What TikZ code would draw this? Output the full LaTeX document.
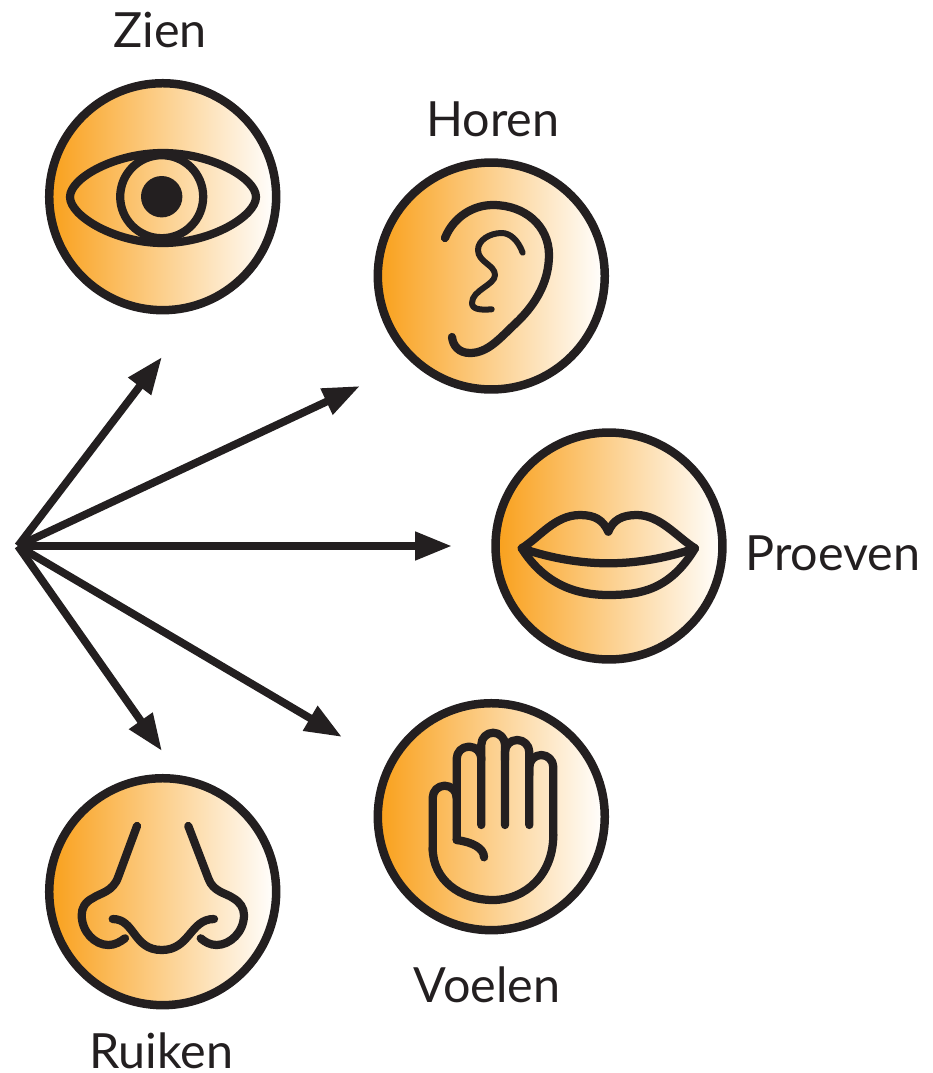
\documentclass[tikz,border=0pt]{standalone}
\usepackage{fontspec}
\setmainfont{Lato}
\usetikzlibrary{arrows.meta}
\definecolor{inkblack}{HTML}{231F20}
\definecolor{senseorange}{HTML}{F9A01B}
\tikzset{
  sense/.style={circle, draw=inkblack, line width=0.17cm, minimum size=4.54cm, inner sep=0pt, left color=senseorange, right color=white},
  icon/.style={draw=inkblack, line width=0.165cm, line cap=round, line join=round},
  lbl/.style={anchor=base, text=inkblack, font=\fontsize{27.6}{32}\selectfont, inner sep=0pt},
  ray/.style={draw=inkblack, line width=0.155cm, -{Triangle[length=0.74cm, width=0.54cm]}}
}
\begin{document}
\begin{tikzpicture}[x=0.02cm, y=-0.02cm]
  \useasboundingbox (0,0) rectangle (933,1073);

  % Circles
  \node[sense] (zien) at (162.7,196.7) {};
  \node[sense] (horen) at (491.3,276) {};
  \node[sense] (proeven) at (609,546) {};
  \node[sense] (voelen) at (491.3,816.7) {};
  \node[sense] (ruiken) at (162.7,891.7) {};

  % Labels
  \node[lbl] (zienlabel) at (160,47) {Zien};
  \node[lbl] (horenlabel) at (493,136) {Horen};
  \node[lbl] (proevenlabel) at (833,570) {Proeven};
  \node[lbl] (voelenlabel) at (487,1002) {Voelen};
  \node[lbl] (ruikenlabel) at (161,1068) {Ruiken};

  % Arrows
  \coordinate (start) at (18,546);
  \coordinate (zientip) at (162,357);
  \coordinate (horentip) at (360,386);
  \coordinate (proeventip) at (452,546);
  \coordinate (voelentip) at (342,737);
  \coordinate (ruikentip) at (162,751);
  \draw[ray] (start) -- (zientip);
  \draw[ray] (start) -- (horentip);
  \draw[ray] (start) -- (proeventip);
  \draw[ray] (start) -- (voelentip);
  \draw[ray] (start) -- (ruikentip);

  % Eye
  \draw[icon] (70,197) .. controls (70,178) and (115,153) .. (163,153) .. controls (211,153) and (256,178) .. (256,197) .. controls (256,216) and (211,243) .. (163,243) .. controls (115,243) and (70,216) .. (70,197) -- cycle;
  \draw[icon] (161.7,196.7) circle (41.5);
  \fill[inkblack] (161.7,196.7) circle (20.7);

  % Ear
  \draw[icon] (445,238) .. controls (453,218) and (472,205) .. (493,205) .. controls (525,205) and (549,226) .. (549,255) .. controls (549,285) and (532,308) .. (516,323) .. controls (500,338) and (488,353) .. (470,353) .. controls (459,353) and (453,346) .. (452,337);
  \draw[icon, line width=0.12cm] (522.7,252.7) .. controls (518,240) and (510,233) .. (501.7,233) .. controls (490,233) and (478,240) .. (478,250) .. controls (478,262) and (495,265) .. (495,275) .. controls (495,285) and (472,290) .. (472,303) .. controls (472,310) and (482,310) .. (491.7,309.3);

  % Lips
  \draw[icon] (521.7,548.3) .. controls (540,537) and (555,515) .. (580,515) .. controls (595,515) and (603,520) .. (608.3,531.7) .. controls (613,520) and (622,515) .. (636.7,515) .. controls (660,515) and (677,537) .. (695,548.3) .. controls (670,590) and (640,595) .. (608.3,595) .. controls (577,595) and (545,585) .. (521.7,548.3) -- cycle;
  \draw[icon] (521.7,548.3) .. controls (550,558) and (580,563.3) .. (608.3,563.3) .. controls (637,563.3) and (667,558) .. (695,548.3);

  % Hand
  \draw[icon, rounded corners=0.24cm] (432.7,850) -- (432.7,785.7) -- (456.7,785.7) -- (456.7,840);
  \draw[icon, rounded corners=0.24cm] (456.7,798) -- (456.7,746.7) -- (481.3,746.7) -- (481.3,825);
  \draw[icon, rounded corners=0.24cm] (481.3,760) -- (481.3,732.7) -- (505,732.7) -- (505,825);
  \draw[icon, rounded corners=0.24cm] (505,760) -- (505,740) -- (529.3,740) -- (529.3,825);
  \draw[icon, rounded corners=0.24cm] (529.3,775) -- (529.3,755) -- (553.3,755) -- (553.3,835);
  \draw[icon] (553.3,835) .. controls (553.3,875) and (525,900) .. (493,900) .. controls (460,900) and (432.7,880) .. (432.7,848);
  \draw[icon] (456.7,840) .. controls (472,842) and (484,848) .. (484,857.3);

  % Nose
  \draw[icon] (137,826) -- (118.3,876.7) .. controls (113,892) and (100,893) .. (93,898) .. controls (85,902) and (81.7,908) .. (81.7,915) .. controls (81.7,932) and (95,945) .. (108.3,945) .. controls (115,945) and (120,942) .. (125,938.3);
  \draw[icon] (188.3,826) -- (208.3,878.3) .. controls (213,892) and (226,893) .. (233,898) .. controls (240,902) and (244,908) .. (244,915) .. controls (244,932) and (230,945) .. (216.7,945) .. controls (210,945) and (205,942) .. (200.7,938.3);
  \draw[icon] (112.7,919) .. controls (135,919) and (133,950) .. (161.7,950) .. controls (190,950) and (190,919) .. (214,919);
\end{tikzpicture}
\end{document}
